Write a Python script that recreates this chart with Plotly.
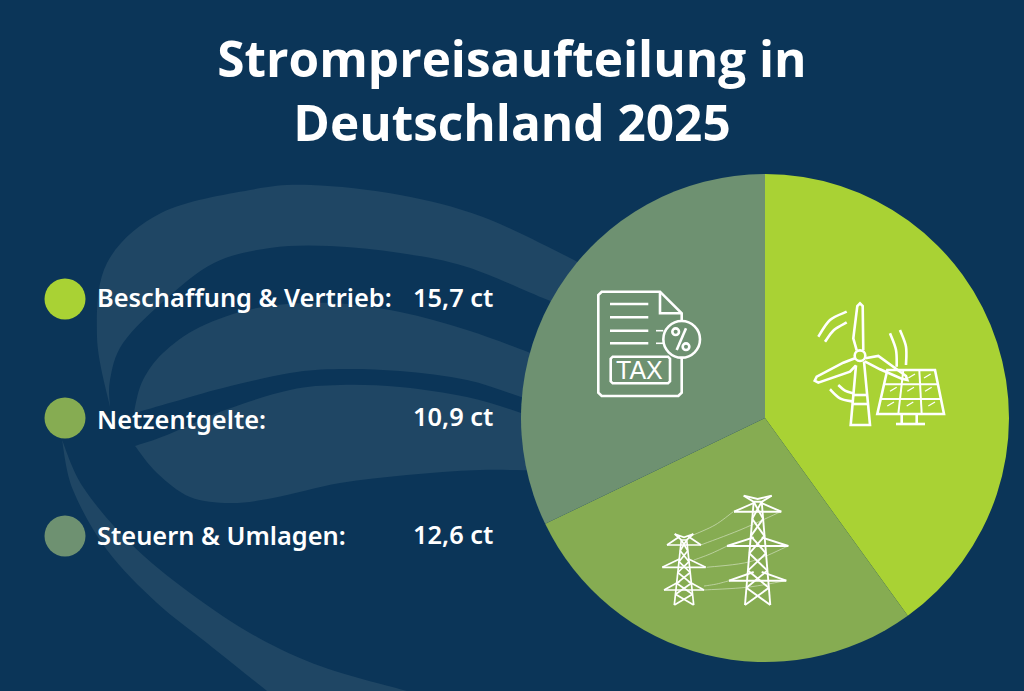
import plotly.graph_objects as go

# Strompreis data (ct/kWh)
categories = ["Beschaffung & Vertrieb:", "Netzentgelte:", "Steuern & Umlagen:"]
values = [15.7, 10.9, 12.6]
value_labels = ["15,7 ct", "10,9 ct", "12,6 ct"]
slice_colors = ["#a9d234", "#86ac52", "#6e9171"]
title_lines = ["Strompreisaufteilung in", "Deutschland 2025"]

W, H = 1024, 691
BG = "#0b3558"
SWOOSH = "#1f4664"
WHITE = "#ffffff"
PIE_CX, PIE_CY, PIE_R = 765, 418, 244
LEGEND_Y = [299, 418, 536]
NAME_Y = [297, 419, 535]
VALUE_Y = [297, 416, 534]


def smooth(points, closed=True):
    """Catmull-Rom curve through points, as an SVG path string."""
    n = len(points)
    d = f"M{points[0][0]},{points[0][1]}"
    for i in range(n - 1):
        p0 = points[max(i - 1, 0)]
        p1 = points[i]
        p2 = points[i + 1]
        p3 = points[min(i + 2, n - 1)]
        c1 = (p1[0] + (p2[0] - p0[0]) / 6, p1[1] + (p2[1] - p0[1]) / 6)
        c2 = (p2[0] - (p3[0] - p1[0]) / 6, p2[1] - (p3[1] - p1[1]) / 6)
        d += f" C{c1[0]:.1f},{c1[1]:.1f} {c2[0]:.1f},{c2[1]:.1f} {p2[0]},{p2[1]}"
    return d + (" Z" if closed else "")


def area(edge_a, edge_b):
    """Closed band bounded by two smooth edges, the second one walked in order."""
    a = smooth(edge_a, closed=False)
    b = smooth(edge_b, closed=False)
    return a + " L" + b[1:] + " Z"


def band(path):
    return dict(type="path", path=path, xref="x", yref="y", layer="below",
                fillcolor=SWOOSH, line=dict(width=0))


def stroke(path, width=2.6, opacity=1.0, color=WHITE):
    return dict(type="path", path=path, xref="x", yref="y", layer="above",
                opacity=opacity, line=dict(color=color, width=width))


def poly(points, origin=(0, 0), scale=1 / 3, closed=False):
    pts = [(origin[0] + x * scale, origin[1] + y * scale) for x, y in points]
    d = "M" + " L".join(f"{x:.1f},{y:.1f}" for x, y in pts)
    return d + (" Z" if closed else "")


def curve(points, origin=(0, 0), scale=1 / 3):
    pts = [(round(origin[0] + x * scale, 1), round(origin[1] + y * scale, 1)) for x, y in points]
    return smooth(pts, closed=False)


def ring(cx, cy, r, origin=(0, 0), scale=1 / 3):
    """Circle outline built from four cubic segments."""
    x0, y0, rr = origin[0] + cx * scale, origin[1] + cy * scale, r * scale
    k = 0.5523 * rr
    return (f"M{x0 - rr:.2f},{y0:.2f} "
            f"C{x0 - rr:.2f},{y0 - k:.2f} {x0 - k:.2f},{y0 - rr:.2f} {x0:.2f},{y0 - rr:.2f} "
            f"C{x0 + k:.2f},{y0 - rr:.2f} {x0 + rr:.2f},{y0 - k:.2f} {x0 + rr:.2f},{y0:.2f} "
            f"C{x0 + rr:.2f},{y0 + k:.2f} {x0 + k:.2f},{y0 + rr:.2f} {x0:.2f},{y0 + rr:.2f} "
            f"C{x0 - k:.2f},{y0 + rr:.2f} {x0 - rr:.2f},{y0 + k:.2f} {x0 - rr:.2f},{y0:.2f} Z")


shapes = []

# Background swooshes
shapes.append(band(area(
    [(110, 407), (97, 337), (107, 263), (161, 213), (250, 190), (311, 185), (400, 195), (483, 217), (570, 258), (600, 275)],
    [(600, 320), (548, 300), (467, 267), (400, 253), (330, 246), (270, 248), (214, 263), (165, 300), (123, 343), (110, 380), (110, 407)])))
shapes.append(band(area(
    [(135, 413), (135, 407), (143, 380), (163, 353), (200, 327), (257, 308), (330, 303), (400, 312), (467, 330), (528, 352), (560, 364)],
    [(560, 410), (521, 397), (467, 380), (400, 371), (340, 369), (290, 373), (223, 388), (173, 402), (135, 413)])))
shapes.append(band(area(
    [(135, 446), (167, 435), (225, 410), (290, 390), (340, 385), (400, 387), (467, 397), (521, 413), (560, 428)],
    [(560, 471), (480, 470), (407, 475), (340, 483), (273, 498), (230, 503), (190, 497), (157, 473), (135, 446)])))
shapes.append(band(area(
    [(62, 440), (73, 490), (107, 550), (157, 603), (207, 643), (267, 691)],
    [(407, 691), (323, 667), (257, 637), (190, 593), (130, 543), (83, 487), (62, 440)])))

# Tax document icon
TAX = (580, 280)
shapes += [
    stroke(poly([(305, 123), (305, 100), (240, 35), (65, 35), (55, 45), (55, 338), (65, 348),
                 (295, 348), (305, 338), (305, 233)], TAX)),
    stroke(poly([(240, 35), (240, 100), (305, 100)], TAX)),
    stroke(ring(305, 178, 55, TAX)),
    stroke(poly([(318, 145), (290, 210)], TAX)),
    stroke(ring(287, 155, 10, TAX)),
    stroke(ring(318, 200, 10, TAX)),
    stroke(poly([(98, 230), (264, 230), (270, 236), (270, 304), (264, 310),
                 (98, 310), (92, 304), (92, 236)], TAX, closed=True)),
]
for ly in (72, 112, 152, 190):
    shapes.append(stroke(poly([(90, ly), (205, ly)], TAX)))
for ly in (152, 190):
    shapes.append(stroke(poly([(228, ly), (250, ly)], TAX), width=1.6))

# Wind turbine and solar panel icon
WIND = (800, 290)
shapes += [
    stroke(ring(180, 197, 16, WIND)),
    stroke(poly([(170, 181), (160, 145), (172, 48), (180, 40), (188, 48), (190, 181)], WIND)),
    stroke(poly([(165, 205), (130, 218), (50, 260), (44, 272), (55, 278), (150, 245), (168, 226)], WIND)),
    stroke(poly([(196, 205), (235, 198), (318, 258), (322, 270), (305, 266), (240, 238), (194, 214)], WIND)),
    stroke(poly([(168, 226), (152, 405), (210, 405), (192, 214)], WIND)),
    stroke(poly([(160, 315), (198, 315)], WIND)),
    stroke(poly([(158, 342), (201, 342)], WIND)),
    stroke(curve([(55, 140), (90, 90), (140, 65)], WIND)),
    stroke(curve([(75, 155), (102, 120), (140, 97)], WIND)),
    stroke(curve([(270, 130), (288, 180), (290, 230)], WIND)),
    stroke(curve([(300, 120), (318, 170), (318, 225)], WIND)),
    stroke(curve([(90, 298), (120, 325), (160, 335)], WIND)),
    stroke(curve([(115, 285), (135, 302), (160, 310)], WIND)),
    stroke(poly([(262, 240), (405, 240), (432, 372), (232, 372)], WIND, closed=True)),
    stroke(poly([(310, 240), (295, 372)], WIND), width=2),
    stroke(poly([(358, 240), (365, 372)], WIND), width=2),
    stroke(poly([(252, 283), (414, 283)], WIND), width=2),
    stroke(poly([(242, 327), (423, 327)], WIND), width=2),
    stroke(poly([(305, 372), (305, 402)], WIND)),
    stroke(poly([(350, 372), (350, 402)], WIND)),
    stroke(poly([(288, 402), (375, 402)], WIND)),
]
for gx, gy in [(335, 258), (382, 258), (280, 298), (332, 298), (385, 298), (272, 342), (330, 342), (395, 342)]:
    shapes.append(stroke(poly([(gx - 10, gy + 6), (gx + 10, gy - 6)], WIND), width=1.3))

# Transmission tower icon
GRID = (650, 480)


def tower(cx, top, bottom, half_top, half_bottom, cap, arms):
    """Lattice pylon: legs, cross bracing, arms and top cap, in icon units."""
    segs = [
        [(cx - half_top, top), (cx - half_bottom, bottom)],
        [(cx + half_top, top), (cx + half_bottom, bottom)],
        [(cx - cap, top - 18), (cx - half_top, top), (cx + half_top, top), (cx + cap, top - 18)],
        [(cx - cap, top - 18), (cx, top - 8), (cx + cap, top - 18)],
    ]
    steps = 6
    for i in range(steps):
        t0, t1 = i / steps, (i + 1) / steps
        y0, y1 = top + (bottom - top) * t0, top + (bottom - top) * t1
        w0 = half_top + (half_bottom - half_top) * t0
        w1 = half_top + (half_bottom - half_top) * t1
        segs.append([(cx - w0, y0), (cx + w1, y1)])
        segs.append([(cx + w0, y0), (cx - w1, y1)])
    for ay, reach in arms:
        segs.append([(cx - reach, ay), (cx + reach, ay)])
        segs.append([(cx - reach, ay), (cx - 12, ay - 26)])
        segs.append([(cx + reach, ay), (cx + 12, ay - 26)])
    return segs


for seg in tower(323, 65, 375, 12, 38, 42, [(95, 71), (198, 92), (302, 86)]):
    shapes.append(stroke(poly(seg, GRID), width=1.9))
for seg in tower(102, 180, 375, 8, 29, 28, [(195, 51), (262, 65), (330, 60)]):
    shapes.append(stroke(poly(seg, GRID), width=1.7))
for wire in [
    [(130, 165), (195, 135), (250, 95)],
    [(152, 195), (270, 150), (392, 95)],
    [(132, 240), (180, 222), (232, 198)],
    [(170, 262), (300, 245), (415, 198)],
    [(162, 318), (200, 312), (238, 302)],
    [(162, 330), (290, 322), (408, 302)],
]:
    shapes.append(stroke(curve(wire, GRID), width=0.8, opacity=0.55))

annotations = []
for name, label, ny, vy in zip(categories, value_labels, NAME_Y, VALUE_Y):
    annotations.append(dict(x=95, y=ny, text=name, showarrow=False,
                            xref="x", yref="y", xanchor="left", yanchor="middle",
                            font=dict(family="Noto Sans", size=25.4, color=WHITE, weight=600)))
    annotations.append(dict(x=495, y=vy, text=label, showarrow=False,
                            xref="x", yref="y", xanchor="right", yanchor="middle",
                            font=dict(family="Noto Sans", size=25.4, color=WHITE, weight=600)))
annotations.append(dict(x=639, y=370, text="TAX", showarrow=False, xref="x", yref="y",
                        xanchor="center", yanchor="middle",
                        font=dict(family="Liberation Sans", size=25, color=WHITE)))

fig = go.Figure()
fig.add_trace(go.Scatter(
    x=[65, 65, 65], y=LEGEND_Y, mode="markers", hoverinfo="skip", showlegend=False,
    marker=dict(size=41, color=slice_colors, line=dict(width=0)),
))
fig.add_trace(go.Pie(
    labels=categories, values=values, sort=False, direction="clockwise", rotation=0,
    textinfo="none", showlegend=False, hoverinfo="label+value",
    marker=dict(colors=slice_colors, line=dict(width=0)),
    domain=dict(x=[(PIE_CX - PIE_R) / W, (PIE_CX + PIE_R) / W],
                y=[1 - (PIE_CY + PIE_R) / H, 1 - (PIE_CY - PIE_R) / H]),
))
fig.update_layout(
    width=W, height=H, margin=dict(l=0, r=0, t=0, b=0),
    paper_bgcolor=BG, plot_bgcolor=BG, showlegend=False,
    title=dict(text="<br>".join(title_lines), x=0.5, xanchor="center", y=0.889, yanchor="top",
               xref="paper", yref="paper",
               font=dict(family="Open Sans", size=49.5, color=WHITE, weight=700)),
    xaxis=dict(range=[0, W], domain=[0, 1], visible=False, fixedrange=True),
    yaxis=dict(range=[H, 0], domain=[0, 1], visible=False, fixedrange=True),
    shapes=shapes, annotations=annotations,
)
fig.write_html("out.html")
